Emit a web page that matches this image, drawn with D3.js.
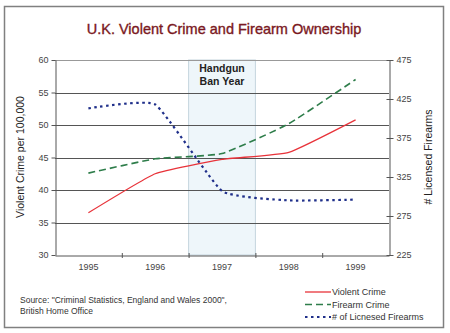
<!DOCTYPE html>
<html><head><meta charset="utf-8">
<script src="https://cdn.jsdelivr.net/npm/d3@7"></script>
<style>body{margin:0;background:#fff;font-family:"Liberation Sans",Arial,sans-serif}</style>
</head><body><svg id="c" width="450" height="333"></svg>
<script>
const years = ["1995","1996","1997","1998","1999"];
const violentCrime = [36.5, 42.5, 44.7, 45.8, 50.8];
const firearmCrime = [42.6, 44.8, 45.6, 50.2, 57.0];
const licensedFirearms = [413, 418, 307, 295, 296];
const leftTicks = [30,35,40,45,50,55,60];
const rightTicks = [225,275,325,375,425,475];
const banYear = "1997";
const title = "U.K. Violent Crime and Firearm Ownership";
const legendLabels = ["Violent Crime","Firearm Crime","# of Licnesed Firearms"];
const sourceLines = ["Source: \"Criminal Statistics, England and Wales 2000\",","British Home Office"];

const svg = d3.select("#c");
const L=55,R=389,T=60,B=255;
svg.append("rect").attr("x",4.5).attr("y",6.5).attr("width",439).attr("height",321)
  .attr("fill","#fff").attr("stroke","#808080").attr("stroke-width",1.5);

const x = d3.scaleBand().domain(years).range([L,R]);
const yL = d3.scaleLinear().domain([30,60]).range([B,T]);
const yR = d3.scaleLinear().domain([225,475]).range([B,T]);

svg.append("rect").attr("x",x(banYear)).attr("y",T).attr("width",x.bandwidth()).attr("height",B-T)
  .attr("fill","#eef6fa").attr("stroke","#c5d5de").attr("stroke-width",1);

svg.append("g").selectAll("line").data(leftTicks.slice(1)).join("line")
  .attr("x1",L).attr("x2",R).attr("y1",d=>Math.round(yL(d))+0.5).attr("y2",d=>Math.round(yL(d))+0.5)
  .attr("stroke",d=>d===60?"#999":"#555").attr("stroke-width",1);

svg.append("text").attr("x",x(banYear)+x.bandwidth()/2).attr("y",72).attr("text-anchor","middle")
  .attr("font-size",10.5).attr("font-weight","bold").attr("fill","#222").text("Handgun");
svg.append("text").attr("x",x(banYear)+x.bandwidth()/2).attr("y",85).attr("text-anchor","middle")
  .attr("font-size",10.5).attr("font-weight","bold").attr("fill","#222").text("Ban Year");

const gL = svg.append("g").attr("transform",`translate(${L+0.5},0)`)
  .call(d3.axisLeft(yL).tickValues(leftTicks).tickSize(4).tickSizeOuter(0));
const gR = svg.append("g").attr("transform",`translate(${R+0.5},0)`)
  .call(d3.axisRight(yR).tickValues(rightTicks).tickSize(4).tickSizeOuter(0));
gR.selectAll(".tick line").attr("x1",-3);
const gB = svg.append("g").attr("transform",`translate(0,${B+0.5})`)
  .call(d3.axisBottom(x).tickSize(0).tickPadding(8));
[gL,gR,gB].forEach(g=>{
  g.select(".domain").attr("stroke","#555");
  g.selectAll(".tick line").attr("stroke","#555");
  g.selectAll("text").attr("font-size",9).attr("fill","#444").attr("font-family","Liberation Sans,Arial");
});
const bounds = years.slice(1).map(d=>x(d));
svg.append("g").selectAll("line").data(bounds).join("line")
  .attr("x1",d=>d+0.5).attr("x2",d=>d+0.5).attr("y1",B-2).attr("y2",B+3).attr("stroke","#555");

const curve = d3.curveCardinal.tension(0.6);
const lineL = d3.line().x((d,i)=>x(years[i])+x.bandwidth()/2).y(d=>yL(d)).curve(curve);
const lineR = d3.line().x((d,i)=>x(years[i])+x.bandwidth()/2).y(d=>yR(d)).curve(curve);
svg.append("path").attr("d",lineL(violentCrime)).attr("fill","none").attr("stroke","#e8333a").attr("stroke-width",1.3);
svg.append("path").attr("d",lineL(firearmCrime)).attr("fill","none").attr("stroke","#2e7d4a").attr("stroke-width",1.6).attr("stroke-dasharray","7,4");
svg.append("path").attr("d",lineR(licensedFirearms)).attr("fill","none").attr("stroke","#1f2f8a").attr("stroke-width",2.2).attr("stroke-dasharray","2.5,3.5");

svg.append("text").attr("x",224).attr("y",34).attr("text-anchor","middle").attr("font-size",14.5)
  .attr("fill","#7a1822").attr("stroke","#7a1822").attr("stroke-width",0.35).text(title);
svg.append("text").attr("transform","translate(24,157) rotate(-90)").attr("text-anchor","middle")
  .attr("font-size",10.5).attr("fill","#222").text("Violent Crime per 100,000");
svg.append("text").attr("transform","translate(432,157) rotate(-90)").attr("text-anchor","middle")
  .attr("font-size",10.5).attr("fill","#222").text("# Licensed Firearms");

sourceLines.forEach((s,i)=>svg.append("text").attr("x",20).attr("y",303+i*10.5).attr("font-size",8.5).attr("fill","#333").text(s));

const styles=[{c:"#e8333a",w:1.3,da:null},{c:"#2e7d4a",w:1.6,da:"7,4"},{c:"#1f2f8a",w:2.2,da:"2.5,3.5"}];
legendLabels.forEach((t,i)=>{
  const yy=292+i*12.5;
  svg.append("line").attr("x1",305).attr("x2",331).attr("y1",yy).attr("y2",yy)
    .attr("stroke",styles[i].c).attr("stroke-width",styles[i].w).attr("stroke-dasharray",styles[i].da);
  svg.append("text").attr("x",332).attr("y",yy+3).attr("font-size",9).attr("fill","#333").text(t);
});
</script></body></html>
